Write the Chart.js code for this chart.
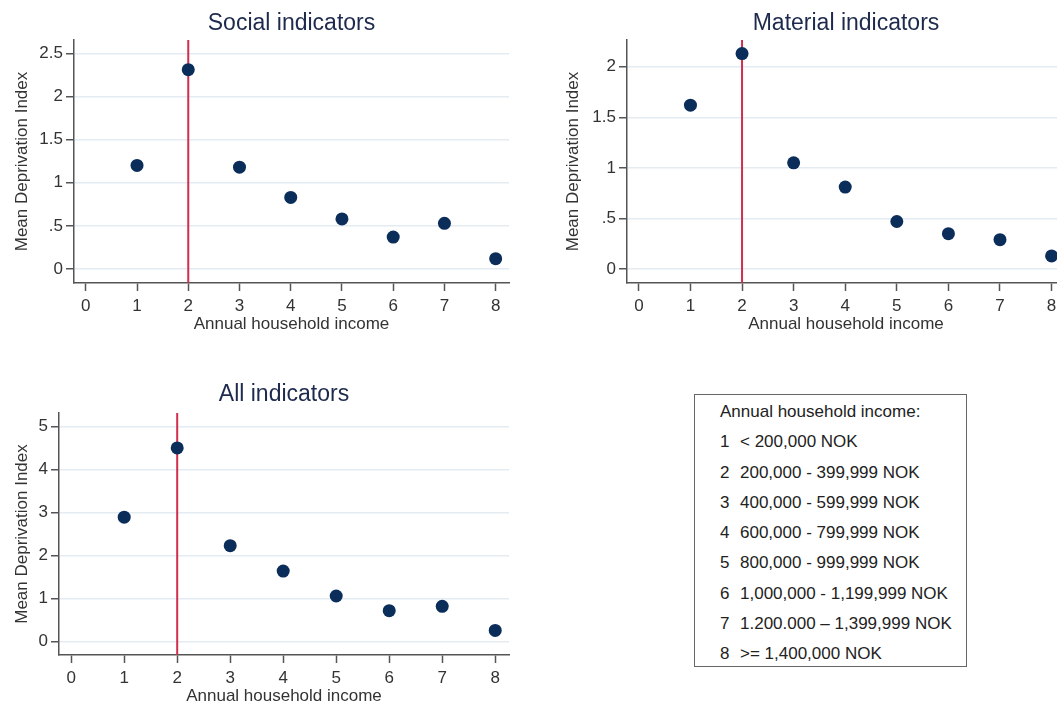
<!DOCTYPE html>
<html>
<head>
<meta charset="utf-8">
<script src="https://cdn.jsdelivr.net/npm/chart.js@4.4.0/dist/chart.umd.min.js"></script>
<style>
    body {
        margin: 0;
        background: #fff;
        width: 1057px;
        height: 703px;
        overflow: hidden;
        position: relative;
        font-family: Arial, "Liberation Sans", sans-serif;
    }
    canvas { position: absolute; }
    #legend-box {
        position: absolute;
        left: 694px;
        top: 394px;
        width: 273px;
        height: 273px;
        box-sizing: border-box;
        border: 1px solid #666;
        padding: 2px 0 0 25px;
        font-size: 17px;
        color: #222;
    }
    #legend-box div { line-height: 30.3px; white-space: nowrap; }
    #legend-box span { display: inline-block; width: 20px; }
</style>
</head>
<body>
<canvas id="socialChart"></canvas>
<canvas id="materialChart"></canvas>
<canvas id="allChart"></canvas>
<div id="legend-box"></div>

<script>
// --- Data ---
const incomeGroups = [1, 2, 3, 4, 5, 6, 7, 8];
const socialMeans = [1.20, 2.31, 1.18, 0.83, 0.58, 0.37, 0.53, 0.12];
const materialMeans = [1.62, 2.13, 1.05, 0.81, 0.47, 0.35, 0.29, 0.13];
const allMeans = [2.89, 4.50, 2.23, 1.64, 1.06, 0.72, 0.82, 0.26];

const xTicks = [0, 1, 2, 3, 4, 5, 6, 7, 8];
const socialYTicks = [0, 0.5, 1, 1.5, 2, 2.5];
const materialYTicks = [0, 0.5, 1, 1.5, 2];
const allYTicks = [0, 1, 2, 3, 4, 5];

const xRange = [-0.23, 8.26];
const socialYRange = [-0.162, 2.654];
const materialYRange = [-0.138, 2.264];
const allYRange = [-0.31, 5.31];

const refLineX = 2; // red vertical line

const legendTitle = 'Annual household income:';
const incomeCodes = ['1', '2', '3', '4', '5', '6', '7', '8'];
const incomeBands = [
    '< 200,000 NOK',
    '200,000 - 399,999 NOK',
    '400,000 - 599,999 NOK',
    '600,000 - 799,999 NOK',
    '800,000 - 999,999 NOK',
    '1,000,000 - 1,199,999 NOK',
    '1.200.000 \u2013 1,399,999 NOK',
    '>= 1,400,000 NOK'
];

const xTitle = 'Annual household income';
const yTitle = 'Mean Deprivation Index';

// --- Styles ---
const FONT = 'Arial, "Liberation Sans", sans-serif';
const axisColor = '#555';
const gridColor = '#e3ecf2';
const dotColor = '#0b2d5a';
const redColor = '#d12d4c';

// stata style labels: .5 instead of 0.5
const stataLabel = v => String(v).replace(/^0\./, '.');

// draws the red reference line behind the dots
const refLinePlugin = {
    id: 'refLine',
    beforeDatasetsDraw(chart) {
        const { ctx, chartArea, scales } = chart;
        const x = scales.x.getPixelForValue(refLineX);
        ctx.save();
        ctx.strokeStyle = redColor;
        ctx.lineWidth = 2;
        ctx.beginPath();
        ctx.moveTo(x, chartArea.top);
        ctx.lineTo(x, chartArea.bottom);
        ctx.stroke();
        ctx.restore();
    }
};

function makePanel(id, opts) {
    const canvas = document.getElementById(id);
    canvas.width = opts.width;
    canvas.height = opts.height;
    canvas.style.left = opts.left + 'px';
    canvas.style.top = opts.top + 'px';

    return new Chart(canvas.getContext('2d'), {
        type: 'scatter',
        data: {
            datasets: [{
                data: incomeGroups.map((g, i) => ({ x: g, y: opts.values[i] })),
                backgroundColor: dotColor,
                borderWidth: 0,
                pointRadius: 6.5,
                pointHoverRadius: 6.5
            }]
        },
        options: {
            responsive: false,
            animation: false,
            devicePixelRatio: 1,
            layout: { padding: 0 },
            plugins: {
                legend: { display: false },
                tooltip: { enabled: false },
                title: {
                    display: true,
                    text: opts.title,
                    color: '#1d2a4d',
                    font: { family: FONT, size: 23, weight: 'normal' },
                    padding: opts.titlePad
                }
            },
            scales: {
                x: {
                    type: 'linear',
                    min: xRange[0],
                    max: xRange[1],
                    afterBuildTicks: s => { s.ticks = xTicks.map(v => ({ value: v })); },
                    afterFit: s => { s.height = 52; },
                    grid: { drawOnChartArea: false, tickLength: 8, tickColor: axisColor, tickWidth: 1.5 },
                    border: { color: axisColor, width: 1.5 },
                    ticks: { color: '#333', padding: 5, font: { family: FONT, size: 17 } },
                    title: { display: true, text: xTitle, color: '#333', padding: 0, font: { family: FONT, size: 17 } }
                },
                y: {
                    type: 'linear',
                    min: opts.yRange[0],
                    max: opts.yRange[1],
                    afterBuildTicks: s => { s.ticks = opts.yTicks.map(v => ({ value: v })); },
                    afterFit: s => { s.width = opts.yWidth; },
                    grid: { color: gridColor, lineWidth: 1.5, tickLength: 8, tickColor: axisColor, tickWidth: 1.5 },
                    border: { color: axisColor, width: 1.5 },
                    ticks: { color: '#333', padding: 3, font: { family: FONT, size: 17 }, callback: v => stataLabel(v) },
                    title: { display: true, text: yTitle, color: '#333', padding: { top: opts.yTitlePad, bottom: 0 }, font: { family: FONT, size: 17 } }
                },
                // empty space on the right so the title sits centred over the plot
                pad: {
                    type: 'linear',
                    position: 'right',
                    grid: { display: false },
                    border: { display: false },
                    ticks: { display: false },
                    afterFit: s => { s.width = opts.yWidth; }
                }
            }
        },
        plugins: [refLinePlugin]
    });
}

document.addEventListener('DOMContentLoaded', () => {

    makePanel('socialChart', {
        title: 'Social indicators', values: socialMeans,
        yTicks: socialYTicks, yRange: socialYRange,
        left: 0, top: 0, width: 583, height: 335, yWidth: 74,
        titlePad: { top: 10, bottom: 2.4 }, yTitlePad: 12
    });

    makePanel('materialChart', {
        title: 'Material indicators', values: materialMeans,
        yTicks: materialYTicks, yRange: materialYRange,
        left: 540, top: 0, width: 612, height: 335, yWidth: 87,
        titlePad: { top: 10, bottom: 2.4 }, yTitlePad: 23
    });

    makePanel('allChart', {
        title: 'All indicators', values: allMeans,
        yTicks: allYTicks, yRange: allYRange,
        left: 0, top: 373, width: 568, height: 334, yWidth: 59,
        titlePad: { top: 7.5, bottom: 4.9 }, yTitlePad: 12
    });

    // --- Legend box ---
    const box = document.getElementById('legend-box');
    const head = document.createElement('div');
    head.textContent = legendTitle;
    box.appendChild(head);
    incomeBands.forEach((band, i) => {
        const row = document.createElement('div');
        const num = document.createElement('span');
        num.textContent = incomeCodes[i];
        row.appendChild(num);
        row.appendChild(document.createTextNode(band));
        box.appendChild(row);
    });
});
</script>
</body>
</html>
